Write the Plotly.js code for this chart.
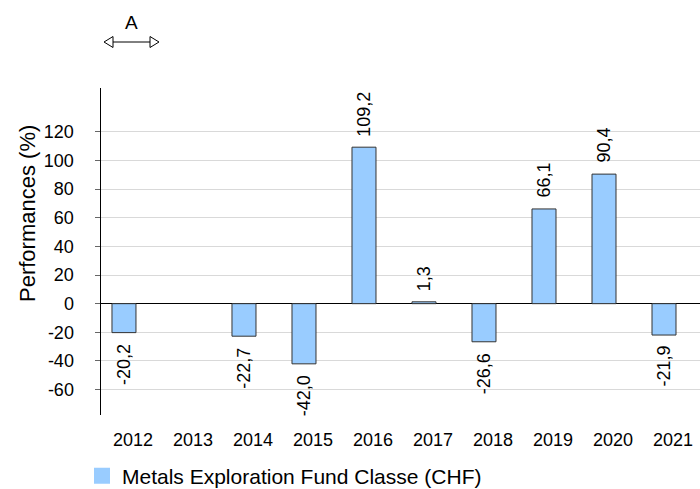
<!DOCTYPE html>
<html>
<head>
<meta charset="utf-8">
<script src="https://cdn.plot.ly/plotly-3.0.1.min.js"></script>
<style>html,body{margin:0;padding:0;background:#fff;}#chart{width:700px;height:489px;}</style>
</head>
<body>
<div id="chart"></div>
<script>
const years = ['2012','2013','2014','2015','2016','2017','2018','2019','2020','2021'];
const performances = [-20.2, null, -22.7, -42.0, 109.2, 1.3, -26.6, 66.1, 90.4, -21.9];
const seriesName = 'Metals Exploration Fund Classe (CHF)';
const yTicks = [-60, -40, -20, 0, 20, 40, 60, 80, 100, 120];
const yTitle = 'Performances (%)';
const annotationLabel = 'A';

const labels = performances.map(v => v === null ? '' : v.toFixed(1).replace('.', ','));

const W = 700, H = 489, ML = 101, MR = 0, MT = 88, MB = 74;
const PW = W - ML - MR, PH = H - MT - MB;
const px = x => (x - ML) / PW;
const py = y => (H - MB - y) / PH;

const font = 'Liberation Sans, Arial, sans-serif';
const barColor = '#99ccff';

const trace = {
  type: 'bar',
  x: years,
  y: performances,
  name: seriesName,
  width: 0.4,
  offset: -0.35,
  marker: {color: barColor, line: {color: '#333333', width: 1}},
  showlegend: false,
  cliponaxis: false,
  hoverinfo: 'skip'
};

// legend-only entry (larger square swatch)
const legendTrace = {
  type: 'scatter', mode: 'markers', x: [null], y: [null], name: seriesName,
  marker: {symbol: 'square', size: 16, color: barColor, line: {width: 0}},
  showlegend: true, hoverinfo: 'skip'
};

const dataLabels = [];
performances.forEach((v, i) => {
  if (v === null) return;
  dataLabels.push({
    x: i, y: v, xref: 'x', yref: 'y',
    text: labels[i], textangle: -90, showarrow: false,
    xshift: -9, yshift: v >= 0 ? 9 : -9,
    xanchor: 'center', yanchor: v >= 0 ? 'bottom' : 'top',
    font: {family: font, size: 18, color: '#000'}
  });
});

const arrowY = 42;
const shapes = [
  {type: 'line', xref: 'paper', yref: 'paper', x0: px(112), x1: px(151), y0: py(arrowY), y1: py(arrowY), line: {color: '#000', width: 1}},
  {type: 'path', xref: 'paper', yref: 'paper',
   path: `M ${px(104)} ${py(arrowY)} L ${px(113)} ${py(arrowY-5.5)} L ${px(113)} ${py(arrowY+5.5)} Z`,
   fillcolor: '#fff', line: {color: '#000', width: 1}},
  {type: 'path', xref: 'paper', yref: 'paper',
   path: `M ${px(159)} ${py(arrowY)} L ${px(150)} ${py(arrowY-5.5)} L ${px(150)} ${py(arrowY+5.5)} Z`,
   fillcolor: '#fff', line: {color: '#000', width: 1}}
];

const layout = {
  width: W, height: H,
  margin: {l: ML, r: MR, t: MT, b: MB, pad: 0, autoexpand: false},
  paper_bgcolor: '#fff', plot_bgcolor: '#fff',
  font: {family: font, size: 18, color: '#000'},
  showlegend: true,
  legend: {orientation: 'h', x: px(82), xanchor: 'left', y: py(476), yanchor: 'middle',
           font: {family: font, size: 21, color: '#000'}, bgcolor: 'rgba(0,0,0,0)'},
  xaxis: {
    type: 'category',
    range: [-0.533, 9.45],
    showline: false, showgrid: false, zeroline: false,
    ticks: '', ticklabelstandoff: 12,
    tickfont: {family: font, size: 18, color: '#000'},
    fixedrange: true
  },
  yaxis: {
    range: [-77.7, 150.5],
    tickvals: yTicks,
    ticktext: yTicks.map(String),
    showline: true, linecolor: '#000', linewidth: 1.5,
    ticks: 'outside', ticklen: 5, tickcolor: '#666', tickwidth: 1,
    showgrid: true, gridcolor: '#d9d9d9', gridwidth: 1,
    zeroline: true, zerolinecolor: '#000', zerolinewidth: 1.5,
    tickfont: {family: font, size: 18, color: '#000'},
    ticklabelstandoff: 17,
    fixedrange: true
  },
  shapes: shapes,
  annotations: [
    {text: annotationLabel, xref: 'paper', yref: 'paper', x: px(131), y: py(22), xanchor: 'center', yanchor: 'middle',
     showarrow: false, font: {family: font, size: 19, color: '#000'}},
    {text: yTitle, xref: 'paper', yref: 'paper', x: px(27), y: py(214), xanchor: 'center', yanchor: 'middle',
     textangle: -90, showarrow: false, font: {family: font, size: 22, color: '#000'}}
  ].concat(dataLabels)
};

Plotly.newPlot('chart', [trace, legendTrace], layout, {displayModeBar: false, staticPlot: true});
</script>
</body>
</html>
